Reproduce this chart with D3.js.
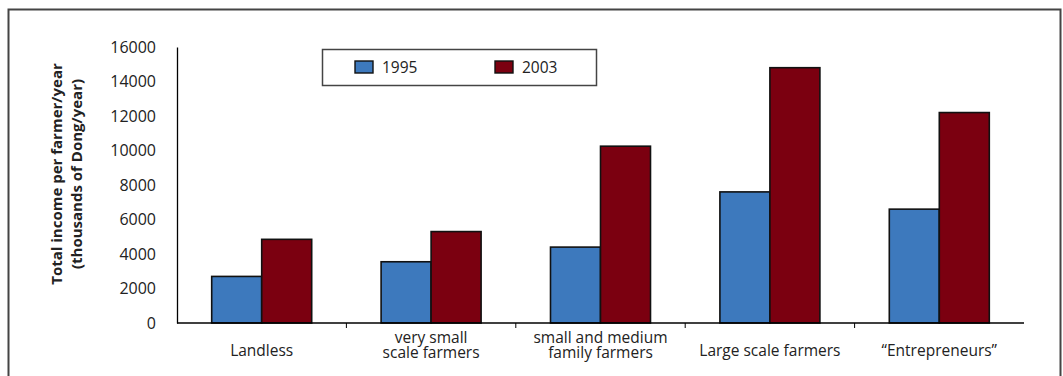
<!DOCTYPE html>
<html>
<head>
<meta charset="utf-8">
<script src="https://cdn.jsdelivr.net/npm/d3@7"></script>
<style>
  html, body { margin: 0; padding: 0; background: #fff; }
  svg { display: block; font-family: "Open Sans", "Noto Sans", sans-serif; }
</style>
</head>
<body>
<svg id="chart" width="1063" height="376"></svg>
<script>
// Farmer groups along the x axis (each label may wrap onto two lines)
const categories = [
  ["Landless"],
  ["very small", "scale farmers"],
  ["small and medium", "family farmers"],
  ["Large scale farmers"],
  ["\u201cEntrepreneurs\u201d"]
];
const seriesNames = ["1995", "2003"];
const values1995 = [2700, 3550, 4400, 7600, 6600];
const values2003 = [4850, 5300, 10250, 14800, 12200];
const yTicks = [0, 2000, 4000, 6000, 8000, 10000, 12000, 14000, 16000];
const colors = ["#3d79bd", "#7b0010"];

const svg = d3.select("#chart");

// outer frame
svg.append("rect")
  .attr("x", 8.5).attr("y", 9.5)
  .attr("width", 1052).attr("height", 380)
  .attr("fill", "none").attr("stroke", "#444").attr("stroke-width", 2);

const margin = { left: 177, right: 1024, top: 47, bottom: 323 };

const x = d3.scaleBand()
  .domain(d3.range(categories.length))
  .range([margin.left, margin.right])
  .paddingInner(0).paddingOuter(0);

const xSub = d3.scaleBand()
  .domain(seriesNames)
  .range([0, 100]);

const y = d3.scaleLinear()
  .domain([0, 16000])
  .range([margin.bottom, margin.top]);

const offset = (x.bandwidth() - 100) / 2;

// bars
const series = [values1995, values2003];
series.forEach((vals, si) => {
  svg.append("g").selectAll("rect")
    .data(vals)
    .join("rect")
    .attr("x", (d, i) => x(i) + offset + xSub(seriesNames[si]))
    .attr("y", d => y(d))
    .attr("width", xSub.bandwidth())
    .attr("height", d => y(0) - y(d))
    .attr("fill", colors[si])
    .attr("stroke", "#111")
    .attr("stroke-width", 1.6);
});

// y axis: line with labels only
const yAxis = svg.append("g")
  .attr("transform", `translate(${margin.left},0)`)
  .call(d3.axisLeft(y).tickValues(yTicks).tickSize(0).tickPadding(21).tickFormat(d3.format("d")));
yAxis.select(".domain").attr("stroke", "#000").attr("stroke-width", 1.3);
yAxis.selectAll("text")
  .attr("font-size", 16)
  .attr("fill", "#222")
  .style("font-family", "'Open Sans', sans-serif");

// x axis: baseline with ticks at category boundaries
svg.append("line")
  .attr("x1", margin.left).attr("x2", margin.right)
  .attr("y1", y(0)).attr("y2", y(0))
  .attr("stroke", "#000").attr("stroke-width", 1.3);

svg.append("g").selectAll("line")
  .data(d3.range(1, categories.length))
  .join("line")
  .attr("x1", i => x(i)).attr("x2", i => x(i))
  .attr("y1", y(0)).attr("y2", y(0) + 5)
  .attr("stroke", "#000").attr("stroke-width", 1);

// category labels
const catG = svg.append("g");
categories.forEach((lines, i) => {
  const cx = x(i) + x.bandwidth() / 2;
  const t = catG.append("text")
    .attr("text-anchor", "middle")
    .attr("font-size", 15.5)
    .attr("fill", "#222");
  const startY = lines.length === 1 ? 356 : 343;
  lines.forEach((ln, k) => {
    t.append("tspan").attr("x", cx).attr("y", startY + k * 15).text(ln);
  });
});

// y axis title
const yt = svg.append("text")
  .attr("transform", `translate(67,${(margin.top + margin.bottom) / 2 - 11}) rotate(-90)`)
  .attr("text-anchor", "middle")
  .attr("font-size", 15)
  .attr("font-weight", "bold")
  .attr("fill", "#222");
yt.append("tspan").attr("x", 0).attr("y", -5).text("Total income per farmer/year");
yt.append("tspan").attr("x", 0).attr("y", 15).text("(thousands of Dong/year)");

// legend
const lg = svg.append("g");
lg.append("rect")
  .attr("x", 322.5).attr("y", 49.5).attr("width", 274).attr("height", 36)
  .attr("fill", "#fff").attr("stroke", "#444").attr("stroke-width", 1.5);
const legendX = [355, 495];
seriesNames.forEach((name, i) => {
  lg.append("rect")
    .attr("x", legendX[i]).attr("y", 61)
    .attr("width", 18).attr("height", 12)
    .attr("fill", colors[i]).attr("stroke", "#111").attr("stroke-width", 1.4);
  lg.append("text")
    .attr("x", legendX[i] + 27).attr("y", 73)
    .attr("font-size", 15.5).attr("fill", "#222")
    .text(name);
});
</script>
</body>
</html>
